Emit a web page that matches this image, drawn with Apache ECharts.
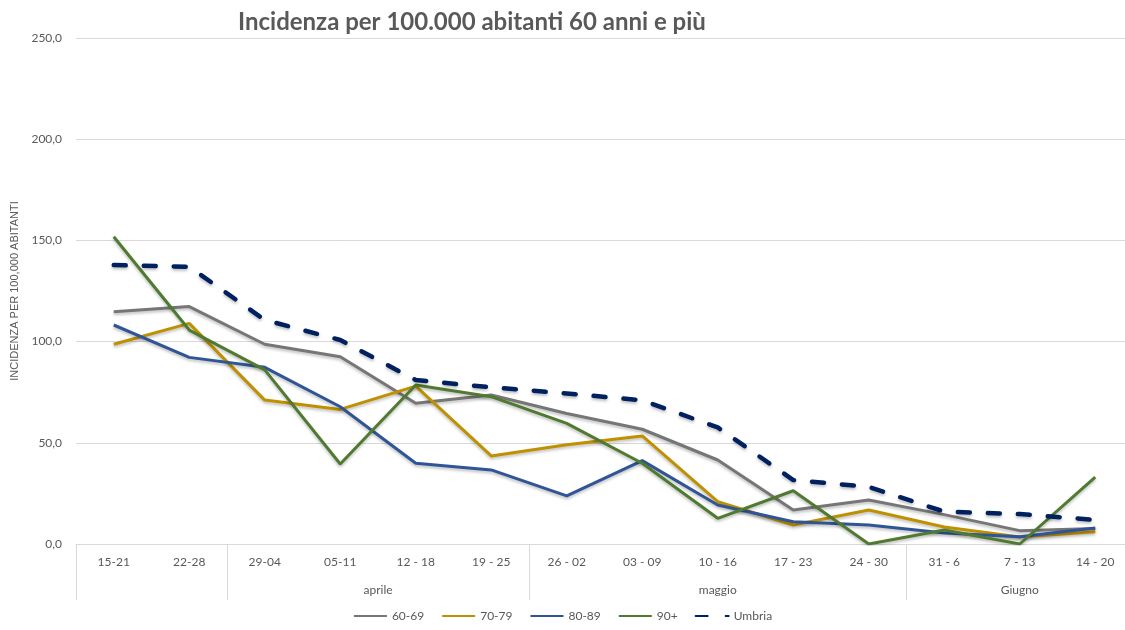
<!DOCTYPE html>
<html>
<head>
<meta charset="utf-8">
<script src="https://cdn.jsdelivr.net/npm/echarts@6/dist/echarts.min.js"></script>
<style>
  html, body { margin: 0; padding: 0; background: #fff; }
  #chart { width: 1125px; height: 630px; }
</style>
</head>
<body>
<div id="chart"></div>
<script>
const weeks = ['15-21', '22-28', '29-04', '05-11', '12 - 18', '19 - 25', '26 - 02', '03 - 09', '10 - 16', '17 - 23', '24 - 30', '31 - 6', '7 - 13', '14 - 20'];
const months = ['', 'aprile', 'maggio', 'Giugno'];
const monthSpans = [2, 4, 5, 3];

const age6069 = [114.8, 117.3, 98.7, 92.5, 69.5, 73.6, 64.5, 56.7, 41.5, 16.8, 21.7, 14.5, 6.6, 7.7];
const age7079 = [98.7, 109.0, 71.1, 66.5, 78.0, 43.5, 49.0, 53.4, 20.9, 9.4, 16.8, 8.4, 3.5, 6.0];
const age8089 = [108.2, 92.2, 87.3, 67.8, 39.9, 36.6, 23.8, 41.2, 19.3, 11.0, 9.4, 5.4, 3.6, 7.9];
const age90 = [151.8, 105.7, 86.0, 39.5, 78.6, 72.8, 59.6, 39.9, 12.7, 26.3, 0.0, 6.9, 0.0, 33.0];
const umbria = [137.8, 137.0, 110.7, 100.8, 81.0, 77.4, 74.4, 71.0, 57.6, 31.6, 28.2, 16.0, 14.8, 11.9];

const TEXT = '#595959';
const GRID = '#d9d9d9';

// month group boundaries and centres, in category units
const bounds = [0];
monthSpans.forEach((s) => bounds.push(bounds[bounds.length - 1] + s));
const centres = monthSpans.map((s, i) => bounds[i] + s / 2);

function monthAt(v) {
  const i = centres.findIndex((c) => Math.abs(c - v) < 0.01);
  return i >= 0 ? months[i] : '';
}

function lineSeries(name, data, color, extra) {
  return Object.assign({
    name,
    type: 'line',
    data,
    symbol: 'none',
    lineStyle: {
      color,
      width: 3,
      shadowColor: 'rgba(0,0,0,0.25)',
      shadowBlur: 3,
      shadowOffsetY: 2
    },
    itemStyle: { color }
  }, extra || {});
}

const chart = echarts.init(document.getElementById('chart'));
chart.setOption({
  animation: false,
  title: {
    text: 'Incidenza per 100.000 abitanti 60 anni e più',
    left: 233,
    top: 5,
    textStyle: { color: TEXT, fontSize: 24, fontWeight: 'bold', fontFamily: 'Lato' }
  },
  legend: {
    left: 'center',
    bottom: 3,
    itemWidth: 33,
    itemHeight: 4,
    itemGap: 17,
    itemStyle: { opacity: 0 },
    textStyle: { color: TEXT, fontSize: 12, fontFamily: 'Lato' },
    data: ['60-69', '70-79', '80-89', '90+', 'Umbria']
  },
  grid: { left: 76, right: -8, top: 38, bottom: 86, outerBoundsMode: 'none' },
  xAxis: [
    {
      type: 'category',
      data: weeks,
      boundaryGap: true,
      axisLine: { lineStyle: { color: GRID, width: 1 } },
      axisTick: { show: false },
      axisLabel: { color: TEXT, fontSize: 12, margin: 12, fontFamily: 'Lato', interval: 0 }
    },
    {
      type: 'value',
      position: 'bottom',
      min: 0,
      max: weeks.length,
      axisLine: { show: false },
      splitLine: { show: false },
      axisTick: { show: true, customValues: bounds, length: 56, lineStyle: { color: GRID } },
      axisLabel: { customValues: centres, formatter: monthAt, color: TEXT, fontSize: 12, margin: 40, fontFamily: 'Lato' }
    }
  ],
  yAxis: {
    type: 'value',
    min: 0,
    max: 250,
    interval: 50,
    name: 'INCIDENZA PER 100,000 ABITANTI',
    nameLocation: 'middle',
    nameGap: 54,
    nameTextStyle: { color: TEXT, fontSize: 11, fontFamily: 'Liberation Sans' },
    axisLine: { show: false },
    axisTick: { show: false },
    axisLabel: {
      color: TEXT,
      fontSize: 12,
      margin: 14,
      fontFamily: 'Lato',
      formatter: (v) => v.toFixed(1).replace('.', ',')
    },
    splitLine: { lineStyle: { color: GRID, width: 1 } }
  },
  series: [
    lineSeries('60-69', age6069, '#767676'),
    lineSeries('70-79', age7079, '#bf9000'),
    lineSeries('80-89', age8089, '#2f5597'),
    lineSeries('90+', age90, '#4f7a2f'),
    lineSeries('Umbria', umbria, '#002060', {
      lineStyle: {
        color: '#002060',
        width: 4.5,
        type: [12, 18],
        cap: 'round',
        shadowColor: 'rgba(0,0,0,0.25)',
        shadowBlur: 3,
        shadowOffsetY: 2
      }
    })
  ]
});
</script>
</body>
</html>
